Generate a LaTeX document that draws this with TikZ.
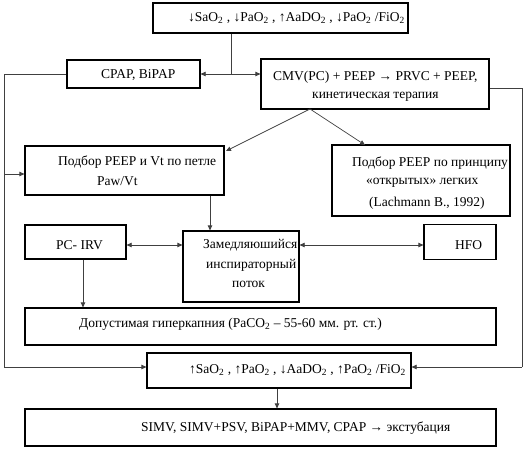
\documentclass[tikz,border=0pt]{standalone}
\usepackage{fontspec}
\setmainfont{Liberation Serif}
\usetikzlibrary{arrows.meta}
\begin{document}
\begin{tikzpicture}[x=1pt,y=-1pt,
  box/.style={draw=black,line width=1.2pt,inner sep=0pt},
  txt/.style={inner sep=0pt,anchor=west,font=\fontsize{13.5}{16}\selectfont},
  conn/.style={draw=black!75,line width=0.7pt},
  arr/.style={conn,-{Triangle[length=5pt,width=4.5pt]}},
  darr/.style={conn,{Triangle[length=5pt,width=4.5pt]}-{Triangle[length=5pt,width=4.5pt]}}]
\useasboundingbox (0,0) rectangle (526,448);
% boxes
\node[box,minimum width=255pt,minimum height=30pt] (top) at (280.5,18) {};
\node[box,minimum width=133pt,minimum height=28pt] (cpap) at (133.5,74) {};
\node[box,minimum width=228pt,minimum height=50pt] (cmv) at (375,84) {};
\node[box,minimum width=199pt,minimum height=49pt] (paw) at (124.5,170.5) {};
\node[box,minimum width=178pt,minimum height=71pt] (lach) at (421,180.5) {};
\node[box,minimum width=101pt,minimum height=34pt] (pcirv) at (75.5,242) {};
\node[box,minimum width=116pt,minimum height=71pt] (zam) at (241,266.5) {};
\node[box,minimum width=72pt,minimum height=35pt] (hfo) at (460,242) {};
\node[box,minimum width=471pt,minimum height=37pt] (dop) at (260.5,326.5) {};
\node[box,minimum width=264pt,minimum height=35pt] (res) at (279,370.5) {};
\node[box,minimum width=471pt,minimum height=37pt] (bot) at (260.5,427.5) {};
% texts
\node[txt] (ttop) at (188,18) {↓SaO\textsubscript{2} , ↓PaO\textsubscript{2} , ↑AaDO\textsubscript{2} , ↓PaO\textsubscript{2} /FiO\textsubscript{2}};
\node[txt] (tcpap) at (101,75) {CPAP, BiPAP};
\node[txt] (tcmv1) at (273,77) {CMV(PC) + PEEP → PRVC + PEEP,};
\node[txt] (tcmv2) at (312,97) {кинетическая терапия};
\node[txt] (tpaw1) at (58,162) {Подбор PEEP и Vt по петле};
\node[txt] (tpaw2) at (97,181) {Paw/Vt};
\node[txt] (tlach1) at (352,163) {Подбор PEEP по принципу};
\node[txt] (tlach2) at (366,183) {«открытых» легких};
\node[txt] (tlach3) at (369,203) {(Lachmann B., 1992)};
\node[txt] (tpc) at (56,245) {PC- IRV};
\node[txt] (tzam1) at (203,245) {Замедляюшийся};
\node[txt] (tzam2) at (206,265) {инспираторный};
\node[txt] (tzam3) at (232,284) {поток};
\node[txt] (thfo) at (455,245) {HFO};
\node[txt] (tdop) at (79,324) {Допустимая гиперкапния (PaCO\textsubscript{2} – 55-60 мм. рт. ст.)};
\node[txt] (tres) at (189,370) {↑SaO\textsubscript{2} , ↑PaO\textsubscript{2} , ↓AaDO\textsubscript{2} , ↑PaO\textsubscript{2} /FiO\textsubscript{2}};
\node[txt] (tbot) at (141,428) {SIMV, SIMV+PSV, BiPAP+MMV, CPAP → экстубация};
% coordinates
\coordinate (j) at (231,74);
\coordinate (lt) at (4,74);
\coordinate (lm) at (4,174);
\coordinate (lb) at (4,367);
\coordinate (rt) at (522,88);
\coordinate (rb) at (522,367);
\coordinate (ap) at (310,109);
\coordinate (pawin) at (226,151);
\coordinate (lachin) at (365,145);
\coordinate (xa) at (210,0);
\coordinate (xb) at (83,0);
\coordinate (xc) at (277,0);
\coordinate (ym) at (0,245);
% connectors
\draw[conn] (top.south -| j) -- (j);
\draw[arr] (j) -- (cpap.east |- j);
\draw[arr] (j) -- (cmv.west |- j);
\draw[conn] (cpap.west) -- (lt) -- (lb);
\draw[arr] (lb) -- (lb -| res.west);
\draw[arr] (lm) -- (lm -| paw.west);
\draw[conn] (rt -| cmv.east) -- (rt) -- (rb);
\draw[arr] (rb) -- (rb -| res.east);
\draw[arr] (ap) -- (pawin);
\draw[arr] (ap) -- (lachin);
\draw[arr] (paw.south -| xa) -- (zam.north -| xa);
\draw[darr] (pcirv.east |- ym) -- (zam.west |- ym);
\draw[darr] (zam.east |- ym) -- (hfo.west |- ym);
\draw[arr] (pcirv.south -| xb) -- (dop.north -| xb);
\draw[arr] (res.south -| xc) -- (bot.north -| xc);
\end{tikzpicture}
\end{document}
